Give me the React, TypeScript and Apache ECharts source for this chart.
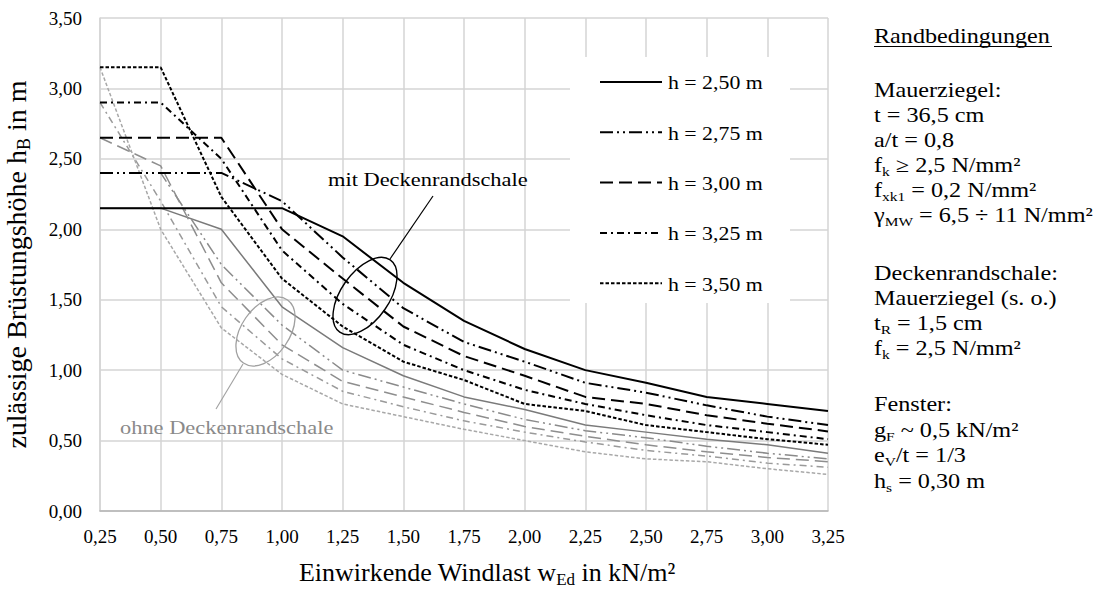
import { useEffect, useRef } from "react";
import * as echarts from "echarts";

// ---------- data ----------
const windLoad = [0.25, 0.5, 0.75, 1.0, 1.25, 1.5, 1.75, 2.0, 2.25, 2.5, 2.75, 3.0, 3.25];
const heightLabels = ["h = 2,50 m", "h = 2,75 m", "h = 3,00 m", "h = 3,25 m", "h = 3,50 m"];

// mit Deckenrandschale (black)
const mitH250 = [2.15, 2.15, 2.15, 2.15, 1.95, 1.62, 1.35, 1.15, 1.0, 0.91, 0.81, 0.76, 0.71];
const mitH275 = [2.4, 2.4, 2.4, 2.2, 1.8, 1.44, 1.2, 1.06, 0.91, 0.84, 0.75, 0.67, 0.61];
const mitH300 = [2.65, 2.65, 2.65, 2.0, 1.65, 1.31, 1.1, 0.96, 0.81, 0.76, 0.68, 0.62, 0.565];
const mitH325 = [2.9, 2.9, 2.5, 1.85, 1.47, 1.18, 1.0, 0.86, 0.76, 0.68, 0.61, 0.56, 0.51];
const mitH350 = [3.15, 3.15, 2.23, 1.65, 1.31, 1.06, 0.93, 0.76, 0.71, 0.61, 0.56, 0.51, 0.47];

// ohne Deckenrandschale (grey)
const ohneH250 = [2.15, 2.15, 2.0, 1.45, 1.16, 0.96, 0.81, 0.72, 0.61, 0.56, 0.51, 0.47, 0.41];
const ohneH275 = [2.4, 2.4, 1.75, 1.32, 1.0, 0.88, 0.76, 0.65, 0.57, 0.52, 0.46, 0.41, 0.37];
const ohneH300 = [2.65, 2.45, 1.62, 1.18, 0.92, 0.81, 0.7, 0.6, 0.53, 0.47, 0.42, 0.38, 0.35];
const ohneH325 = [2.9, 2.2, 1.45, 1.08, 0.85, 0.74, 0.64, 0.56, 0.49, 0.43, 0.39, 0.34, 0.31];
const ohneH350 = [3.15, 2.0, 1.3, 0.97, 0.76, 0.67, 0.58, 0.5, 0.42, 0.37, 0.35, 0.3, 0.26];

const mitSeries = [mitH250, mitH275, mitH300, mitH325, mitH350];
const ohneSeries = [ohneH250, ohneH275, ohneH300, ohneH325, ohneH350];

const sideNotes = [
  "Mauerziegel:",
  "t = 36,5 cm",
  "a/t = 0,8",
  "f{s|k} ≥ 2,5 N/mm²",
  "f{s|xk1} = 0,2 N/mm²",
  "γ{s|MW} = 6,5 ÷ 11 N/mm²",
  "",
  "Deckenrandschale:",
  "Mauerziegel (s. o.)",
  "t{s|R} = 1,5 cm",
  "f{s|k} = 2,5 N/mm²",
  "",
  "Fenster:",
  "g{s|F} ~ 0,5 kN/m²",
  "e{s|V}/t = 1/3",
  "h{s|s} = 0,30 m",
];

// ---------- styles ----------
const FONT = "Liberation Serif";
const DASHES: any[] = [
  "solid",
  [13, 4, 2, 4, 2, 4],
  [13, 6],
  [7, 4, 2, 4],
  [3.5, 2],
];
const GREYS = ["#7a7a7a", "#8a8a8a", "#8e8e8e", "#9a9a9a", "#a8a8a8"];

const fmt = (v: number) => v.toFixed(2).replace(".", ",");

export default function App() {
  const ref = useRef<HTMLDivElement>(null);

  useEffect(() => {
    if (!ref.current) return;
    const chart = echarts.init(ref.current, undefined, { renderer: "svg" });

    const series: any[] = [];
    ohneSeries.forEach((arr, i) => {
      series.push({
        name: heightLabels[i] + " (ohne Deckenrandschale)",
        type: "line",
        symbol: "none",
        z: 2,
        data: windLoad.map((x, k) => [x, arr[k]]),
        lineStyle: { color: GREYS[i], width: 1.5, type: DASHES[i], cap: "butt" },
        emphasis: { disabled: true },
      });
    });
    mitSeries.forEach((arr, i) => {
      series.push({
        name: heightLabels[i] + " (mit Deckenrandschale)",
        type: "line",
        symbol: "none",
        z: 3,
        data: windLoad.map((x, k) => [x, arr[k]]),
        lineStyle: { color: "#000", width: 2, type: DASHES[i], cap: "butt" },
        emphasis: { disabled: true },
      });
    });

    const subRich = (size: number) => ({
      s: { fontFamily: FONT, fontSize: size * 0.64, fill: "#000", padding: [size * 0.6, 0, 0, 0] },
    });

    const graphic: any[] = [];
    // legend box
    graphic.push({
      type: "rect",
      z: 10,
      shape: { x: 570, y: 57, width: 220, height: 246 },
      style: { fill: "#fff" },
    });
    heightLabels.forEach((lab, i) => {
      const yy = 82 + i * 50.3;
      const d = DASHES[i];
      graphic.push({
        type: "line",
        z: 11,
        shape: { x1: 600, y1: yy, x2: 662, y2: yy },
        style: { stroke: "#000", lineWidth: 2, lineDash: d === "solid" ? null : d },
      });
      graphic.push({
        type: "text",
        z: 11,
        x: 668,
        y: yy + 1,
        scaleX: 1.18,
        style: { text: lab, fontFamily: FONT, fontSize: 18.5, fill: "#000", align: "left", verticalAlign: "middle" },
      });
    });

    // annotations
    graphic.push({
      type: "ellipse",
      z: 12,
      x: 365,
      y: 296,
      rotation: -0.61,
      shape: { cx: 0, cy: 0, rx: 24, ry: 44 },
      style: { fill: "none", stroke: "#000", lineWidth: 1.4 },
    });
    graphic.push({
      type: "line",
      z: 12,
      shape: { x1: 390, y1: 259, x2: 433, y2: 196 },
      style: { stroke: "#000", lineWidth: 1.2 },
    });
    graphic.push({
      type: "text",
      z: 12,
      x: 328,
      y: 179,
      scaleX: 1.18,
      style: { text: "mit Deckenrandschale", fontFamily: FONT, fontSize: 19, fill: "#000", align: "left", verticalAlign: "middle" },
    });
    graphic.push({
      type: "ellipse",
      z: 12,
      x: 265.5,
      y: 331.5,
      rotation: -0.61,
      shape: { cx: 0, cy: 0, rx: 24, ry: 38.5 },
      style: { fill: "none", stroke: "#a0a0a0", lineWidth: 1.3 },
    });
    graphic.push({
      type: "line",
      z: 12,
      shape: { x1: 243, y1: 364, x2: 216, y2: 409 },
      style: { stroke: "#a0a0a0", lineWidth: 1.1 },
    });
    graphic.push({
      type: "text",
      z: 12,
      x: 120,
      y: 427,
      scaleX: 1.18,
      style: { text: "ohne Deckenrandschale", fontFamily: FONT, fontSize: 19, fill: "#8a8a8a", align: "left", verticalAlign: "middle" },
    });

    // side panel
    graphic.push({
      type: "text",
      z: 12,
      x: 874,
      y: 36,
      scaleX: 1.18,
      style: { text: "Randbedingungen", fontFamily: FONT, fontSize: 20.5, fill: "#000", align: "left", verticalAlign: "middle" },
    });
    graphic.push({
      type: "line",
      z: 12,
      shape: { x1: 874, y1: 46.5, x2: 1052, y2: 46.5 },
      style: { stroke: "#000", lineWidth: 1.2 },
    });
    const noteY = [90, 115, 140, 165, 190, 215, 0, 273, 298, 323, 348, 0, 404, 430, 455, 481];
    sideNotes.forEach((t, i) => {
      if (!t) return;
      graphic.push({
        type: "text",
        z: 12,
        x: 874,
        y: noteY[i],
        scaleX: 1.18,
        style: {
          text: t,
          fontFamily: FONT,
          fontSize: 20.5,
          fill: "#000",
          align: "left",
          verticalAlign: "middle",
          rich: subRich(20.5),
        },
      });
    });

    const option: any = {
      animation: false,
      textStyle: { fontFamily: FONT },
      grid: { left: 100, right: 267, top: 18, bottom: 78, containLabel: false, outerBoundsMode: "none" },
      xAxis: {
        type: "value",
        min: 0.25,
        max: 3.25,
        interval: 0.25,
        name: "Einwirkende Windlast w{s|Ed} in kN/m²",
        nameLocation: "middle",
        nameGap: 46,
        nameMoveOverlap: false,
        nameTextStyle: {
          fontFamily: FONT,
          fontSize: 26,
          color: "#000",
          padding: [0, 0, 0, 46],
          rich: {
            s: { fontFamily: FONT, fontSize: 17, color: "#000", padding: [14, 0, 0, 0] },
          },
        },
        axisLine: { show: true, lineStyle: { color: "#b5b5b5", width: 1.5 } },
        axisTick: { show: false },
        axisLabel: { formatter: fmt, fontFamily: FONT, fontSize: 19, color: "#000", margin: 16 },
        splitLine: { show: true, lineStyle: { color: "#d4d4d4", width: 1.5 } },
      },
      yAxis: {
        type: "value",
        min: 0,
        max: 3.5,
        interval: 0.5,
        name: "zulässige Brüstungshöhe h{s|B} in m",
        nameLocation: "middle",
        nameRotate: 90,
        nameGap: 67,
        nameMoveOverlap: false,
        nameTextStyle: {
          fontFamily: FONT,
          fontSize: 28,
          color: "#000",
          rich: {
            s: { fontFamily: FONT, fontSize: 18, color: "#000", padding: [15, 0, 0, 0] },
          },
        },
        axisLine: { show: true, lineStyle: { color: "#d4d4d4", width: 1.5 } },
        axisTick: { show: false },
        axisLabel: { formatter: fmt, fontFamily: FONT, fontSize: 19, color: "#000", margin: 18 },
        splitLine: { show: true, lineStyle: { color: "#d4d4d4", width: 1.5 } },
      },
      legend: { show: false },
      series,
      graphic,
    };

    chart.setOption(option);
    return () => chart.dispose();
  }, []);

  return (
    <div
      ref={ref}
      style={{ position: "fixed", left: 0, top: 0, width: 1095, height: 589, background: "#fff" }}
    />
  );
}
